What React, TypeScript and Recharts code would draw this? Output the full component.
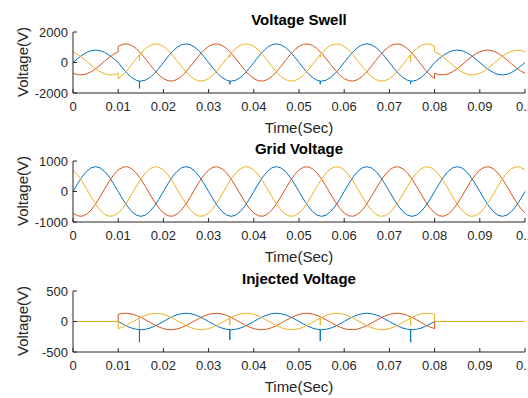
import React from 'react';
import { LineChart, Line, XAxis, YAxis } from 'recharts';

const BLUE = '#0072BD';
const ORANGE = '#D95319';
const YELLOW = '#EDB120';
const AXIS = '#262626';
const FONT = '"Liberation Sans", Arial, Helvetica, sans-serif';

// sample instants, 1 ms apart (0 .. 0.1 s)
const TIME = Array.from({ length: 101 }, (_, i) => i / 1000);
const X_TICKS = [0, 0.01, 0.02, 0.03, 0.04, 0.05, 0.06, 0.07, 0.08, 0.09, 0.1];

// ---- Voltage Swell (swell between 0.01 s and 0.08 s) ----
const swellBlue = [
  0, 252, 479, 659, 775, 815, 775, 659, 479, 252, 0,
  -378, -719, -989, -1163, -1222, -1163, -989, -719, -378,
  0, 378, 719, 989, 1163, 1222, 1163, 989, 719, 378, 0, -378, -719, -989, -1163, -1222, -1163, -989, -719, -378,
  0, 378, 719, 989, 1163, 1222, 1163, 989, 719, 378, 0, -378, -719, -989, -1163, -1222, -1163, -989, -719, -378,
  0, 378, 719, 989, 1163, 1222, 1163, 989, 719, 378, 0, -378, -719, -989, -1163, -1222, -1163, -989, -719, -378,
  0,
  252, 479, 659, 775, 815, 775, 659, 479, 252, 0, -252, -479, -659, -775, -815, -775, -659, -479, -252,
  0,
];
const swellOrange = [
  -706, -797, -811, -745, -606, -408, -169, 85, 331, 545, 706,
  1196, 1216, 1118, 909, 612, 254, -128, -497, -818,
  -1059, -1196, -1216, -1118, -909, -612, -254, 128, 497, 818, 1059, 1196, 1216, 1118, 909, 612, 254, -128, -497, -818,
  -1059, -1196, -1216, -1118, -909, -612, -254, 128, 497, 818, 1059, 1196, 1216, 1118, 909, 612, 254, -128, -497, -818,
  -1059, -1196, -1216, -1118, -909, -612, -254, 128, 497, 818, 1059, 1196, 1216, 1118, 909, 612, 254, -128, -497, -818,
  -1059,
  -797, -811, -745, -606, -408, -169, 85, 331, 545, 706, 797, 811, 745, 606, 408, 169, -85, -331, -545,
  -706,
];
const swellYellow = [
  706, 545, 331, 85, -169, -408, -606, -745, -811, -797, -706,
  -818, -497, -128, 254, 612, 909, 1118, 1216, 1196,
  1059, 818, 497, 128, -254, -612, -909, -1118, -1216, -1196, -1059, -818, -497, -128, 254, 612, 909, 1118, 1216, 1196,
  1059, 818, 497, 128, -254, -612, -909, -1118, -1216, -1196, -1059, -818, -497, -128, 254, 612, 909, 1118, 1216, 1196,
  1059, 818, 497, 128, -254, -612, -909, -1118, -1216, -1196, -1059, -818, -497, -128, 254, 612, 909, 1118, 1216, 1196,
  1059,
  545, 331, 85, -169, -408, -606, -745, -811, -797, -706, -545, -331, -85, 169, 408, 606, 745, 811, 797,
  706,
];
// steps and spikes: [t, v], drawn right after the 1 ms sample with the same t
const swellBlueExtra = [
  [0.0147, -1217], [0.0147, -1700], [0.0147, -1217],
  [0.0347, -1217], [0.0347, -1430], [0.0347, -1217],
  [0.0547, -1217], [0.0547, -1430], [0.0547, -1217],
  [0.0747, -1217], [0.0747, -1420], [0.0747, -1217],
];
const swellOrangeExtra = [[0.01, 1059], [0.08, -706]];
const swellYellowExtra = [
  [0.01, -1059], [0.08, 706],
  [0.0147, 505], [0.0147, 150], [0.0147, 505],
  [0.0347, 505], [0.0347, 350], [0.0347, 505],
  [0.0547, 505], [0.0547, 350], [0.0547, 505],
  [0.0747, 505], [0.0747, 60], [0.0747, 505],
];

// ---- Grid Voltage ----
const gridBlue = [
  0, 252, 479, 659, 775, 815, 775, 659, 479, 252, 0, -252, -479, -659, -775, -815, -775, -659, -479, -252,
  0, 252, 479, 659, 775, 815, 775, 659, 479, 252, 0, -252, -479, -659, -775, -815, -775, -659, -479, -252,
  0, 252, 479, 659, 775, 815, 775, 659, 479, 252, 0, -252, -479, -659, -775, -815, -775, -659, -479, -252,
  0, 252, 479, 659, 775, 815, 775, 659, 479, 252, 0, -252, -479, -659, -775, -815, -775, -659, -479, -252,
  0, 252, 479, 659, 775, 815, 775, 659, 479, 252, 0, -252, -479, -659, -775, -815, -775, -659, -479, -252,
  0,
];
const gridOrange = [
  -706, -797, -811, -745, -606, -408, -169, 85, 331, 545, 706, 797, 811, 745, 606, 408, 169, -85, -331, -545,
  -706, -797, -811, -745, -606, -408, -169, 85, 331, 545, 706, 797, 811, 745, 606, 408, 169, -85, -331, -545,
  -706, -797, -811, -745, -606, -408, -169, 85, 331, 545, 706, 797, 811, 745, 606, 408, 169, -85, -331, -545,
  -706, -797, -811, -745, -606, -408, -169, 85, 331, 545, 706, 797, 811, 745, 606, 408, 169, -85, -331, -545,
  -706, -797, -811, -745, -606, -408, -169, 85, 331, 545, 706, 797, 811, 745, 606, 408, 169, -85, -331, -545,
  -706,
];
const gridYellow = [
  706, 545, 331, 85, -169, -408, -606, -745, -811, -797, -706, -545, -331, -85, 169, 408, 606, 745, 811, 797,
  706, 545, 331, 85, -169, -408, -606, -745, -811, -797, -706, -545, -331, -85, 169, 408, 606, 745, 811, 797,
  706, 545, 331, 85, -169, -408, -606, -745, -811, -797, -706, -545, -331, -85, 169, 408, 606, 745, 811, 797,
  706, 545, 331, 85, -169, -408, -606, -745, -811, -797, -706, -545, -331, -85, 169, 408, 606, 745, 811, 797,
  706, 545, 331, 85, -169, -408, -606, -745, -811, -797, -706, -545, -331, -85, 169, 408, 606, 745, 811, 797,
  706,
];

// ---- Injected Voltage ----
const injBlue = [
  0, 0, 0, 0, 0, 0, 0, 0, 0, 0, 0,
  -42, -79, -109, -128, -135, -128, -109, -79, -42,
  0, 42, 79, 109, 128, 135, 128, 109, 79, 42, 0, -42, -79, -109, -128, -135, -128, -109, -79, -42,
  0, 42, 79, 109, 128, 135, 128, 109, 79, 42, 0, -42, -79, -109, -128, -135, -128, -109, -79, -42,
  0, 42, 79, 109, 128, 135, 128, 109, 79, 42, 0, -42, -79, -109, -128, -135, -128, -109, -79, -42,
  0,
  0, 0, 0, 0, 0, 0, 0, 0, 0, 0, 0, 0, 0, 0, 0, 0, 0, 0, 0, 0,
];
const injOrange = [
  0, 0, 0, 0, 0, 0, 0, 0, 0, 0, 0,
  132, 134, 123, 100, 68, 28, -14, -55, -90,
  -117, -132, -134, -123, -100, -68, -28, 14, 55, 90, 117, 132, 134, 123, 100, 68, 28, -14, -55, -90,
  -117, -132, -134, -123, -100, -68, -28, 14, 55, 90, 117, 132, 134, 123, 100, 68, 28, -14, -55, -90,
  -117, -132, -134, -123, -100, -68, -28, 14, 55, 90, 117, 132, 134, 123, 100, 68, 28, -14, -55, -90,
  -117,
  0, 0, 0, 0, 0, 0, 0, 0, 0, 0, 0, 0, 0, 0, 0, 0, 0, 0, 0, 0,
];
const injYellow = [
  0, 0, 0, 0, 0, 0, 0, 0, 0, 0, 0,
  -90, -55, -14, 28, 68, 100, 123, 134, 132,
  117, 90, 55, 14, -28, -68, -100, -123, -134, -132, -117, -90, -55, -14, 28, 68, 100, 123, 134, 132,
  117, 90, 55, 14, -28, -68, -100, -123, -134, -132, -117, -90, -55, -14, 28, 68, 100, 123, 134, 132,
  117, 90, 55, 14, -28, -68, -100, -123, -134, -132, -117, -90, -55, -14, 28, 68, 100, 123, 134, 132,
  117,
  0, 0, 0, 0, 0, 0, 0, 0, 0, 0, 0, 0, 0, 0, 0, 0, 0, 0, 0, 0,
];
const injBlueExtra = [
  [0.0147, -134], [0.0147, -340], [0.0147, -134],
  [0.0347, -134], [0.0347, -300], [0.0347, -134],
  [0.0547, -134], [0.0547, -320], [0.0547, -134],
  [0.0747, -134], [0.0747, -340], [0.0747, -134],
];
const injOrangeExtra = [[0.01, 117], [0.08, 0]];
const injYellowExtra = [
  [0.01, -117], [0.08, 0],
  [0.0147, 56], [0.0147, -120], [0.0147, 56],
  [0.0347, 56], [0.0347, -60], [0.0347, 56],
  [0.0547, 56], [0.0547, -60], [0.0547, 56],
  [0.0747, 56], [0.0747, -60], [0.0747, 56],
];

const toPoints = (values: number[], extra: number[][] = []) =>
  [
    ...values.map((v, i) => ({ t: TIME[i], v })),
    ...extra.map(([t, v]) => ({ t, v })),
  ].sort((a, b) => a.t - b.t);

interface Series {
  name: string;
  color: string;
  points: { t: number; v: number }[];
}

interface PanelProps {
  top: number;
  title: string;
  yMax: number;
  series: Series[];
}

const tickStyle = { fill: AXIS, fontSize: 13, fontFamily: FONT };

const Panel: React.FC<PanelProps> = ({ top, title, yMax, series }) => {
  const yTicks = [-yMax, 0, yMax];
  return (
    <div style={{ position: 'absolute', left: 0, top, width: 528, height: 130 }}>
      <LineChart width={528} height={130} margin={{ top: 32, right: 3, bottom: 17, left: 33 }}>
        <XAxis
          xAxisId="b"
          dataKey="t"
          type="number"
          domain={[0, 0.1]}
          ticks={X_TICKS}
          tickFormatter={(v: number) => String(v)}
          interval={0}
          height={20}
          tickSize={-4}
          tickMargin={13}
          stroke={AXIS}
          tick={tickStyle}
        />
        <XAxis
          xAxisId="t"
          orientation="top"
          dataKey="t"
          type="number"
          domain={[0, 0.1]}
          ticks={X_TICKS}
          interval={0}
          height={0}
          tickSize={-4}
          tick={false}
          stroke={AXIS}
        />
        <YAxis
          yAxisId="l"
          type="number"
          domain={[-yMax, yMax]}
          ticks={yTicks}
          interval={0}
          width={40}
          tickSize={-4}
          tickMargin={9}
          stroke={AXIS}
          tick={tickStyle}
        />
        <YAxis
          yAxisId="r"
          orientation="right"
          type="number"
          domain={[-yMax, yMax]}
          ticks={yTicks}
          interval={0}
          width={0}
          tickSize={-4}
          tick={false}
          stroke={AXIS}
        />
        {series.map((s) => (
          <Line
            key={s.name}
            xAxisId="b"
            yAxisId="l"
            data={s.points}
            dataKey="v"
            type="linear"
            stroke={s.color}
            strokeWidth={1}
            dot={false}
            activeDot={false}
            isAnimationActive={false}
          />
        ))}
      </LineChart>
      <div
        style={{
          position: 'absolute', left: 149, width: 300, top: 10, height: 20, lineHeight: '20px',
          textAlign: 'center', fontFamily: FONT, fontSize: 15, fontWeight: 'bold', color: '#000',
        }}
      >
        {title}
      </div>
      <div
        style={{
          position: 'absolute', left: 199, width: 200, top: 117.5, height: 20, lineHeight: '20px',
          textAlign: 'center', fontFamily: FONT, fontSize: 15, color: AXIS,
        }}
      >
        Time(Sec)
      </div>
      <div
        style={{
          position: 'absolute', left: 23 - 60, width: 120, top: 62 - 10, height: 20, lineHeight: '20px',
          textAlign: 'center', fontFamily: FONT, fontSize: 15, color: AXIS, transform: 'rotate(-90deg)',
        }}
      >
        Voltage(V)
      </div>
    </div>
  );
};

export default function App() {
  const panels: PanelProps[] = [
    {
      top: 0,
      title: 'Voltage Swell',
      yMax: 2000,
      series: [
        { name: 'a', color: BLUE, points: toPoints(swellBlue, swellBlueExtra) },
        { name: 'b', color: ORANGE, points: toPoints(swellOrange, swellOrangeExtra) },
        { name: 'c', color: YELLOW, points: toPoints(swellYellow, swellYellowExtra) },
      ],
    },
    {
      top: 129,
      title: 'Grid Voltage',
      yMax: 1000,
      series: [
        { name: 'a', color: BLUE, points: toPoints(gridBlue) },
        { name: 'b', color: ORANGE, points: toPoints(gridOrange) },
        { name: 'c', color: YELLOW, points: toPoints(gridYellow) },
      ],
    },
    {
      top: 259,
      title: 'Injected Voltage',
      yMax: 500,
      series: [
        { name: 'a', color: BLUE, points: toPoints(injBlue, injBlueExtra) },
        { name: 'b', color: ORANGE, points: toPoints(injOrange, injOrangeExtra) },
        { name: 'c', color: YELLOW, points: toPoints(injYellow, injYellowExtra) },
      ],
    },
  ];

  return (
    <div
      style={{
        position: 'absolute', left: 0, top: 0, width: 528, height: 398,
        overflow: 'hidden', background: '#fff',
      }}
    >
      {panels.map((p) => (
        <Panel key={p.title} {...p} />
      ))}
    </div>
  );
}
